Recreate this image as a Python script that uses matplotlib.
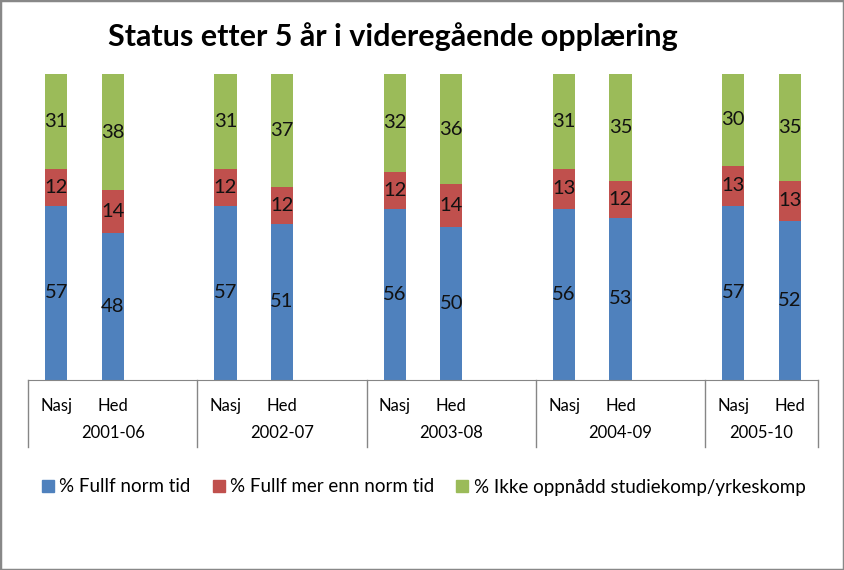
import matplotlib.pyplot as plt
from matplotlib.patches import Rectangle
from matplotlib.transforms import blended_transform_factory

plt.rcParams['font.family'] = ['Lato', 'DejaVu Sans']

perioder = ['2001-06', '2002-07', '2003-08', '2004-09', '2005-10']
grupper = ['Nasj', 'Hed']
fullf_norm = [57, 48, 57, 51, 56, 50, 56, 53, 57, 52]
fullf_mer = [12, 14, 12, 12, 12, 14, 13, 12, 13, 13]
ikke_oppnadd = [31, 38, 31, 37, 32, 36, 31, 35, 30, 35]
serier = ['% Fullf norm tid', '% Fullf mer enn norm tid', '% Ikke oppnådd studiekomp/yrkeskomp']
farger = ['#4F81BD', '#C0504D', '#9BBB59']

# each period gets 3 slots (Nasj, Hed, empty), the last one only 2
pos = []
for g in range(len(perioder)):
    for k in range(len(grupper)):
        pos.append(3 * g + k)
n_slots = 3 * len(perioder) - 1

fig = plt.figure(figsize=(8.44, 5.70), dpi=100)
ax = fig.add_axes([28 / 844, (570 - 380) / 570, 790 / 844, 306 / 570])

bunn = [0] * len(pos)
for verdier, farge, navn in zip([fullf_norm, fullf_mer, ikke_oppnadd], farger, serier):
    ax.bar(pos, verdier, width=0.39, bottom=bunn, color=farge, label=navn)
    for x, b, v in zip(pos, bunn, verdier):
        ax.text(x, b + v / 2, str(v), ha='center', va='center', fontsize=14.5, color='#111111')
    bunn = [b + v for b, v in zip(bunn, verdier)]

ax.set_xlim(-0.5, n_slots - 0.5)
ax.set_ylim(0, 100)
ax.set_xticks([])
ax.set_yticks([])
for s in ['left', 'right', 'top']:
    ax.spines[s].set_visible(False)
ax.spines['bottom'].set_color('#868686')

tr = blended_transform_factory(ax.transData, ax.transAxes)
skiller = [-0.5] + [3 * g + 2.5 for g in range(len(perioder) - 1)] + [n_slots - 0.5]
for x in skiller:
    ax.plot([x, x], [0, -0.219], transform=tr, color='#868686', lw=1, clip_on=False)
for x, i in zip(pos, range(len(pos))):
    ax.text(x, -0.085, grupper[i % 2], transform=tr, ha='center', va='center', fontsize=12)
for g, p in enumerate(perioder):
    ax.text((skiller[g] + skiller[g + 1]) / 2, -0.172, p, transform=tr,
            ha='center', va='center', fontsize=12)

fig.text(0.465, (570 - 37) / 570, 'Status etter 5 år i videregående opplæring',
         ha='center', va='center', fontsize=22, fontweight='bold')

handles = [plt.Line2D([], [], marker='s', ls='', color=f, markersize=9) for f in farger]
fig.legend(handles, serier, loc='center', bbox_to_anchor=(0.5, (570 - 487) / 570),
           ncol=3, frameon=False, fontsize=13.5, handletextpad=0.1, columnspacing=1.0,
           handlelength=1.0)

fig.patches.append(Rectangle((0, 0), 1, 1, transform=fig.transFigure, fill=False,
                             edgecolor='#888888', lw=2.5))

fig.savefig('out.png', dpi=100)
